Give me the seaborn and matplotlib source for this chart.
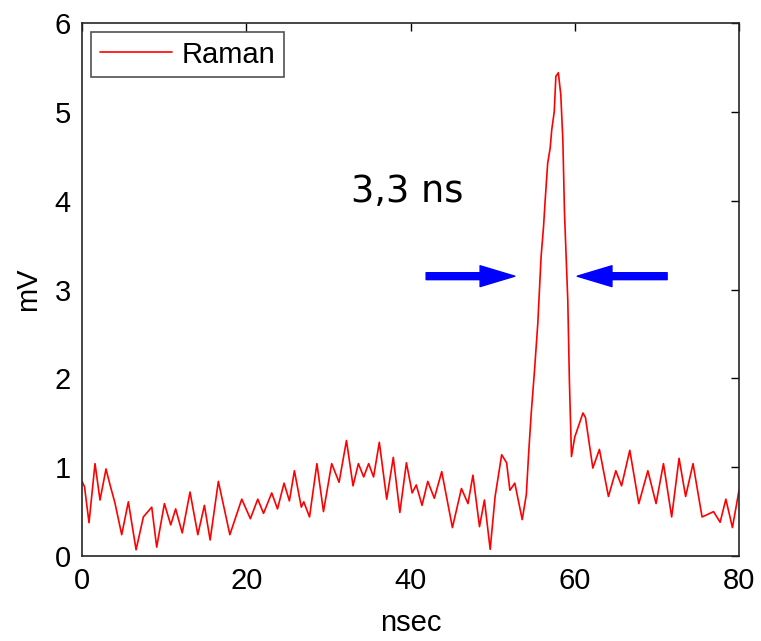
import matplotlib
matplotlib.use("Agg")
import matplotlib.pyplot as plt
import seaborn as sns
import pandas as pd

# Data
time_ns = [0.0, 0.3, 0.85, 1.58, 2.19, 2.92, 3.41, 4.0, 4.83, 5.64, 6.58, 7.47, 8.49, 9.09,
           10.03, 10.8, 11.4, 12.2, 13.15, 14.1, 14.9, 15.6, 16.6, 18.0, 19.45, 20.5, 21.4,
           22.1, 23.1, 23.8, 24.6, 25.25, 25.86, 26.7, 27.0, 27.7, 28.6, 29.4, 30.4, 31.3,
           32.2, 33.0, 33.65, 34.3, 34.9, 35.5, 36.2, 37.1, 37.9, 38.7, 39.5, 40.2, 40.7,
           41.4, 42.1, 42.9, 43.8, 45.1, 46.2, 47.0, 47.6, 48.4, 49.0, 49.7, 50.3, 51.1,
           51.7, 52.1, 52.7, 53.6, 54.1, 54.4, 54.7, 55.1, 55.5, 55.9, 56.2, 56.4, 56.7,
           57.0, 57.2, 57.5, 57.7, 58.0, 58.3, 58.55, 58.75, 59.15, 59.35, 59.6, 60.0,
           61.0, 61.3, 62.2, 63.0, 64.1, 65.0, 65.7, 66.7, 67.8, 68.9, 69.9, 70.8, 71.8,
           72.7, 73.5, 74.4, 75.5, 76.0, 76.9, 77.7, 78.4, 79.2, 80.0]
signal_mv = [0.84, 0.78, 0.375, 1.04, 0.63, 0.98, 0.80, 0.60, 0.24, 0.61, 0.07, 0.44, 0.55, 0.10,
             0.59, 0.35, 0.53, 0.26, 0.72, 0.24, 0.57, 0.18, 0.84, 0.24, 0.64, 0.42, 0.64,
             0.48, 0.71, 0.53, 0.82, 0.62, 0.96, 0.55, 0.61, 0.44, 1.04, 0.50, 1.04, 0.83,
             1.30, 0.79, 1.04, 0.89, 1.04, 0.89, 1.28, 0.64, 1.11, 0.49, 1.05, 0.71, 0.80,
             0.57, 0.84, 0.65, 0.95, 0.32, 0.76, 0.59, 0.91, 0.33, 0.63, 0.075, 0.67, 1.14,
             1.05, 0.74, 0.82, 0.41, 0.69, 1.18, 1.61, 2.09, 2.62, 3.37, 3.71, 4.01, 4.42,
             4.59, 4.80, 5.00, 5.40, 5.44, 5.19, 4.68, 3.86, 2.88, 1.96, 1.12, 1.34,
             1.61, 1.56, 0.99, 1.20, 0.67, 0.96, 0.79, 1.19, 0.59, 0.96, 0.59, 1.04, 0.44,
             1.10, 0.67, 1.04, 0.44, 0.46, 0.50, 0.38, 0.64, 0.32, 0.74]
series_name = "Raman"
x_ticks = [0, 20, 40, 60, 80]
y_ticks = [0, 1, 2, 3, 4, 5, 6]
annotation_text = "3,3 ns"

df = pd.DataFrame({"nsec": time_ns, "mV": signal_mv, "series": series_name})

sns.set_style("white")
plt.rcParams["font.family"] = ["Liberation Sans", "DejaVu Sans"]
plt.rcParams["text.color"] = "black"
plt.rcParams["axes.labelcolor"] = "black"
plt.rcParams["xtick.color"] = "black"
plt.rcParams["ytick.color"] = "black"

fig = plt.figure(figsize=(7.61, 6.41), dpi=100)
ax = fig.add_axes([0.1078, 0.1326, 0.8633, 0.8315])

sns.lineplot(data=df, x="nsec", y="mV", hue="series", palette=["#ff0000"],
             linewidth=1.2, ax=ax, legend=True)

ax.set_xlim(0, 80)
ax.set_ylim(0, 6)
ax.set_xticks(x_ticks)
ax.set_yticks(y_ticks)
ax.tick_params(direction="in", length=6, width=1, top=True, right=True,
               labelsize=21, pad=8, colors="black")
for s in ax.spines.values():
    s.set_visible(True)
    s.set_color("#262626")
    s.set_linewidth(1.2)

ax.set_xlabel("nsec", fontsize=21, labelpad=10, color="black")
ax.set_ylabel("mV", fontsize=21, labelpad=9, color="black")

leg = ax.legend(loc="upper left", fontsize=21, frameon=True, fancybox=False,
                handlelength=2.5, borderaxespad=0.3, borderpad=0.3,
                handletextpad=0.3)
leg.get_frame().set_edgecolor("#262626")
leg.get_frame().set_linewidth(1.2)
for t in leg.get_texts():
    t.set_color("black")

ax.text(32.8, 3.99, annotation_text, fontsize=26.5, family="DejaVu Sans",
        ha="left", va="baseline", color="black")

arrow_props = dict(facecolor="#0000ff", edgecolor="#0000ff", width=5,
                   headwidth=15, headlength=25, shrink=0)
ax.annotate("", xy=(52.7, 3.15), xytext=(41.9, 3.15), arrowprops=arrow_props)
ax.annotate("", xy=(60.3, 3.15), xytext=(71.25, 3.15), arrowprops=arrow_props)

fig.savefig("out.png", dpi=100)
